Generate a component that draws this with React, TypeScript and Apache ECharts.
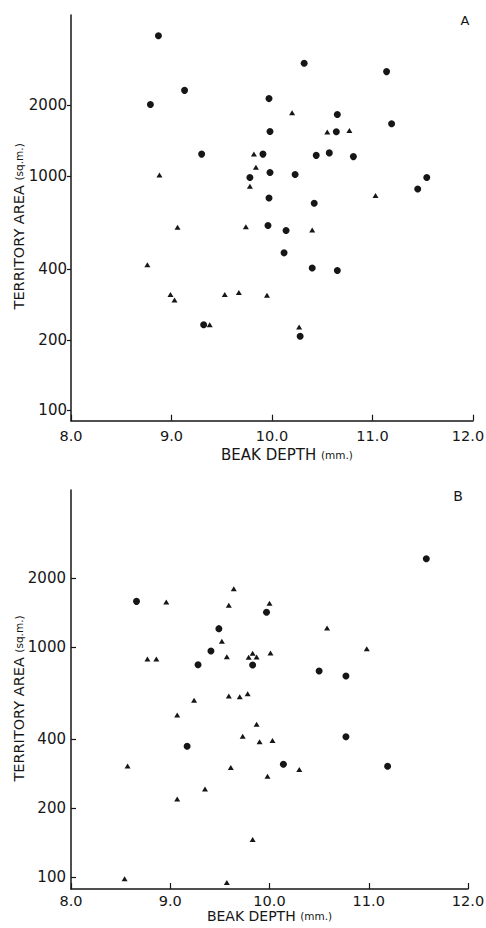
import React, { useEffect, useRef } from 'react';
import * as echarts from 'echarts';

// ---- data (beak depth mm, territory area sq.m.) ----
const circlesA: [number, number][] = [
  [8.87, 3970], [10.32, 3030], [11.14, 2790], [9.13, 2320], [8.79, 2020],
  [9.97, 2140], [10.65, 1830], [11.19, 1670], [9.98, 1550], [10.64, 1545],
  [9.3, 1240], [9.91, 1240], [10.44, 1225], [10.57, 1255], [10.81, 1210],
  [9.78, 985], [9.98, 1035], [10.23, 1015], [11.54, 985], [11.45, 880],
  [9.97, 805], [10.42, 765], [9.96, 615], [10.14, 585], [10.12, 470],
  [10.4, 405], [10.65, 395], [9.32, 232], [10.28, 207],
];
const trianglesA: [number, number][] = [
  [10.2, 1860], [10.55, 1540], [10.77, 1565], [9.82, 1240], [9.84, 1090],
  [8.88, 1010], [9.78, 905], [11.03, 825], [9.06, 605], [9.74, 608],
  [10.4, 588], [8.76, 418], [8.99, 312], [9.03, 296], [9.53, 312],
  [9.67, 318], [9.95, 310], [9.38, 232], [10.27, 227],
];
const circlesB: [number, number][] = [
  [11.58, 2428], [8.66, 1584], [9.97, 1419], [9.49, 1205], [9.41, 964],
  [9.28, 840], [9.83, 838], [10.5, 789], [10.77, 750], [9.17, 371],
  [10.77, 408], [10.14, 310], [11.19, 304],
];
const trianglesB: [number, number][] = [
  [8.96, 1574], [9.64, 1799], [9.59, 1524], [10.0, 1553], [10.58, 1213],
  [9.52, 1062], [10.98, 986], [8.77, 889], [8.86, 889], [9.57, 910],
  [9.83, 942], [9.79, 905], [9.87, 907], [10.01, 944], [9.24, 589],
  [9.59, 614], [9.7, 610], [9.78, 628], [9.07, 508], [9.87, 463],
  [9.73, 410], [9.9, 388], [10.03, 393], [8.57, 305], [9.61, 300],
  [10.3, 294], [9.98, 275], [9.35, 242], [9.07, 219], [9.83, 146],
  [8.54, 98.6], [9.57, 94.8],
];
const xRange = [8, 12];
const yTickValues = [100, 200, 400, 1000, 2000];
const yRangeA = [90.3, 4866];
const yRangeB = [88.9, 4830];
const xTitle = 'BEAK DEPTH';
const xUnit = '(mm.)';
const yTitle = 'TERRITORY AREA';
const yUnit = '(sq.m.)';
const panelLabels = ['A', 'B'];

const FONT = '"DejaVu Sans", "Liberation Sans", Arial, sans-serif';
const INK = '#161616';
const lg = (v: number) => Math.log10(v);

function xAxisFor(gridIndex: number, labelMargin: number, nameGap: number, namePad: number[], lastPad: number, nameSize: number) {
  return {
    type: 'value',
    gridIndex,
    min: xRange[0],
    max: xRange[1],
    interval: 1,
    axisLine: { show: true, onZero: false, lineStyle: { color: INK, width: 1.5 } },
    axisTick: { show: true, inside: true, length: 6, lineStyle: { color: INK, width: 1.2 } },
    axisLabel: {
      color: INK,
      fontFamily: FONT,
      fontSize: 14.5,
      lineHeight: 11,
      margin: labelMargin,
      showMinLabel: true,
      showMaxLabel: true,
      formatter: (v: number) => (v === xRange[1] ? `{r|${v.toFixed(1)}}` : v.toFixed(1)),
      rich: {
        r: { fontFamily: FONT, fontSize: 14.5, lineHeight: 11, color: INK, padding: [0, lastPad, 0, 0] },
      },
    },
    splitLine: { show: false },
    name: `${xTitle} {u|${xUnit}}`,
    nameLocation: 'middle',
    nameGap,
    nameMoveOverlap: false,
    nameTextStyle: {
      color: INK,
      fontFamily: FONT,
      fontSize: nameSize,
      lineHeight: 12,
      padding: namePad,
      rich: { u: { fontSize: 10.5, lineHeight: 12, fontFamily: FONT, color: INK } },
    },
  };
}

function logAxisFor(gridIndex: number, range: number[]) {
  return {
    type: 'log',
    logBase: 10,
    gridIndex,
    position: 'left',
    min: range[0],
    max: range[1],
    show: false,
    splitLine: { show: false },
  };
}

function labelAxisFor(gridIndex: number, range: number[], tickInside: boolean, tickLen: number, labelMargin: number, namePad: number[]) {
  const ticks = yTickValues.map(lg);
  return {
    type: 'value',
    gridIndex,
    position: 'left',
    min: lg(range[0]),
    max: lg(range[1]),
    axisLine: { show: true, onZero: false, lineStyle: { color: INK, width: 1.5 } },
    axisTick: { show: true, inside: tickInside, length: tickLen, customValues: ticks, lineStyle: { color: INK, width: 1.2 } },
    axisLabel: {
      customValues: ticks,
      color: INK,
      fontFamily: FONT,
      fontSize: 15,
      margin: labelMargin,
      formatter: (v: number) => String(Math.round(Math.pow(10, v))),
    },
    splitLine: { show: false },
    name: `${yTitle} {u|${yUnit}}`,
    nameLocation: 'middle',
    nameRotate: 90,
    nameGap: 45,
    nameMoveOverlap: false,
    nameTextStyle: {
      color: INK,
      fontFamily: FONT,
      fontSize: 14.5,
      padding: namePad,
      rich: { u: { fontSize: 10.5, fontFamily: FONT, color: INK } },
    },
  };
}

export default function App() {
  const ref = useRef<HTMLDivElement>(null);
  useEffect(() => {
    if (!ref.current) return;
    const chart = echarts.init(ref.current, undefined, { renderer: 'svg' });
    const scatter = (data: [number, number][], xi: number, yi: number, symbol: string, size: any) => ({
      type: 'scatter',
      xAxisIndex: xi,
      yAxisIndex: yi,
      data,
      symbol,
      symbolSize: size,
      itemStyle: { color: INK, opacity: 1 },
      emphasis: { disabled: true },
    });
    chart.setOption({
      animation: false,
      backgroundColor: '#ffffff',
      grid: [
        { left: 71, top: 15, width: 402, height: 405.7, outerBoundsMode: 'none', containLabel: false },
        { left: 71, top: 490, width: 397, height: 399, outerBoundsMode: 'none', containLabel: false },
      ],
      xAxis: [
        xAxisFor(0, 9.5, 28, [0, 0, 0, 30], 10, 15),
        xAxisFor(1, 6, 21, [0, 0, 0, 0], 0, 14),
      ],
      yAxis: [
        logAxisFor(0, yRangeA),
        labelAxisFor(0, yRangeA, false, 4, 4, [0, 17, 0, 0]),
        logAxisFor(1, yRangeB),
        labelAxisFor(1, yRangeB, true, 5, 5, [0, 18, 0, 0]),
      ],
      series: [
        scatter(circlesA, 0, 0, 'circle', 7),
        scatter(trianglesA, 0, 0, 'triangle', [6, 5]),
        scatter(circlesB, 1, 2, 'circle', 7),
        scatter(trianglesB, 1, 2, 'triangle', [6, 5]),
      ],
      graphic: [
        {
          type: 'text',
          x: 465,
          y: 20,
          style: { text: panelLabels[0], fill: INK, font: `13px ${FONT}`, align: 'center', verticalAlign: 'middle' },
        },
        {
          type: 'text',
          x: 458,
          y: 496,
          style: { text: panelLabels[1], fill: INK, font: `14px ${FONT}`, align: 'center', verticalAlign: 'middle' },
        },
      ],
    });
    return () => chart.dispose();
  }, []);
  return <div ref={ref} style={{ position: 'absolute', left: 0, top: 0, width: 486, height: 928 }} />;
}
